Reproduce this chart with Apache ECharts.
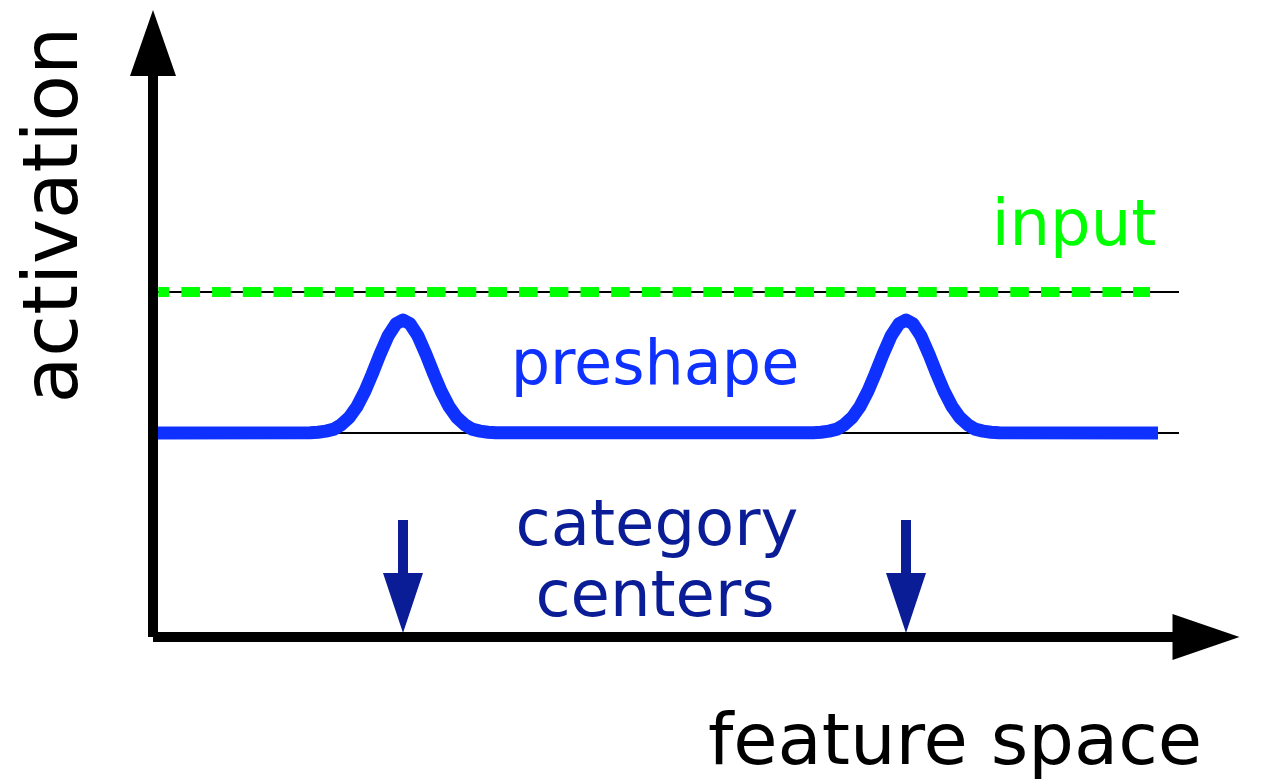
<!DOCTYPE html>
<html>
<head>
<meta charset="utf-8">
<script src="https://cdn.jsdelivr.net/npm/echarts@6/dist/echarts.min.js"></script>
<style>
html,body{margin:0;padding:0;background:#fff;}
#chart{width:1262px;height:782px;}
</style>
</head>
<body>
<div id="chart"></div>
<script>
// ---- data (feature space units, activation units) ----
const preshapeX = [0.05, 1.57, 1.65, 1.73, 1.81, 1.88, 1.96, 2.04, 2.12, 2.19, 2.27, 2.35, 2.43, 2.50,
                   2.57, 2.65, 2.73, 2.81, 2.88, 2.96, 3.04, 3.12, 3.19, 3.27, 3.35, 3.43,
                   6.60, 6.68, 6.76, 6.84, 6.91, 6.99, 7.07, 7.15, 7.22, 7.30, 7.38, 7.46, 7.53,
                   7.60, 7.68, 7.76, 7.84, 7.91, 7.99, 8.07, 8.15, 8.22, 8.30, 8.38, 8.46, 10.05];
const preshapeY = [2.04, 2.043, 2.048, 2.059, 2.079, 2.121, 2.193, 2.305, 2.460, 2.625, 2.826, 3.009, 3.133, 3.17,
                   3.133, 3.009, 2.826, 2.625, 2.460, 2.305, 2.193, 2.121, 2.079, 2.059, 2.048, 2.043,
                   2.043, 2.048, 2.059, 2.079, 2.121, 2.193, 2.305, 2.460, 2.625, 2.826, 3.009, 3.133, 3.17,
                   3.133, 3.009, 2.826, 2.625, 2.460, 2.305, 2.193, 2.121, 2.079, 2.059, 2.048, 2.043, 2.04];
const inputX = [0.053, 9.97];
const inputY = [3.45, 3.45];
const refLineX = [0.05, 10.26];
const refLevels = [3.45, 2.04];        // input level, resting level
const categoryCenters = [2.50, 7.53];
const arrowShaftY = [1.17, 0.60];
const arrowHeadY = 0.34;
const xMax = 10.53, yMax = 5.94;

const labels = {
  yName: 'activation',
  xName: 'feature space',
  input: 'input',
  preshape: 'preshape',
  category: ['category', 'centers']
};

const FONT = '"DejaVu Sans", Verdana, sans-serif';
const darkBlue = '#0a1c96';
const blue = '#0f31ff';
const green = '#00ff00';

const series = [];
refLevels.forEach(function (lv) {
  series.push({
    type: 'line', silent: true, symbol: 'none', z: 1,
    data: refLineX.map(function (x) { return [x, lv]; }),
    lineStyle: { color: '#000', width: 2 }
  });
});
series.push({
  type: 'line', silent: true, symbol: 'none', z: 3,
  data: inputX.map(function (x, i) { return [x, inputY[i]]; }),
  lineStyle: { color: green, width: 10, type: [18.6, 12.1], dashOffset: 7.6, cap: 'butt' }
});
series.push({
  type: 'line', silent: true, symbol: 'none', z: 4, smooth: false,
  data: preshapeX.map(function (x, i) { return [x, preshapeY[i]]; }),
  lineStyle: { color: blue, width: 13, cap: 'butt', join: 'round' }
});
categoryCenters.forEach(function (c) {
  series.push({
    type: 'line', silent: true, symbol: 'none', z: 4,
    data: arrowShaftY.map(function (y) { return [c, y]; }),
    lineStyle: { color: darkBlue, width: 10, cap: 'butt' }
  });
});
series.push({
  type: 'scatter', silent: true, z: 5,
  symbol: 'triangle', symbolRotate: 180, symbolSize: [40, 60],
  itemStyle: { color: darkBlue, opacity: 1 },
  data: categoryCenters.map(function (c) { return [c, arrowHeadY]; })
});

const axisCommon = {
  type: 'value', axisTick: { show: false }, axisLabel: { show: false }, splitLine: { show: false }
};

const option = {
  animation: false,
  backgroundColor: '#fff',
  grid: { left: 153, right: 56, top: 43, bottom: 145, containLabel: false },
  xAxis: Object.assign({}, axisCommon, {
    min: 0, max: xMax,
    axisLine: { show: true, onZero: false, symbol: ['none', 'triangle'], symbolSize: [46, 67],
      lineStyle: { color: '#000', width: 10, cap: 'butt' } }
  }),
  yAxis: Object.assign({}, axisCommon, {
    min: 0, max: yMax,
    axisLine: { show: true, onZero: false, symbol: ['none', 'triangle'], symbolSize: [46, 66],
      lineStyle: { color: '#000', width: 10, cap: 'butt' } }
  }),
  series: series,
  graphic: [
    { type: 'text', x: 57, y: 215, rotation: Math.PI / 2, z: 10,
      style: { text: labels.yName, font: '76px ' + FONT, fill: '#000', align: 'center', verticalAlign: 'middle' } },
    { type: 'text', x: 955, y: 745, z: 10,
      style: { text: labels.xName, font: '72px ' + FONT, fill: '#000', align: 'center', verticalAlign: 'middle' } },
    { type: 'text', x: 1074, y: 228, z: 10,
      style: { text: labels.input, font: '64px ' + FONT, fill: green, align: 'center', verticalAlign: 'middle' } },
    { type: 'text', x: 655, y: 368, z: 10,
      style: { text: labels.preshape, font: '62px ' + FONT, fill: blue, align: 'center', verticalAlign: 'middle' } },
    { type: 'text', x: 657, y: 528, z: 10,
      style: { text: labels.category[0], font: '64px ' + FONT, fill: darkBlue, align: 'center', verticalAlign: 'middle' } },
    { type: 'text', x: 655, y: 599, z: 10,
      style: { text: labels.category[1], font: '64px ' + FONT, fill: darkBlue, align: 'center', verticalAlign: 'middle' } }
  ]
};

const chart = echarts.init(document.getElementById('chart'), null, { renderer: 'canvas' });
chart.setOption(option);
</script>
</body>
</html>
